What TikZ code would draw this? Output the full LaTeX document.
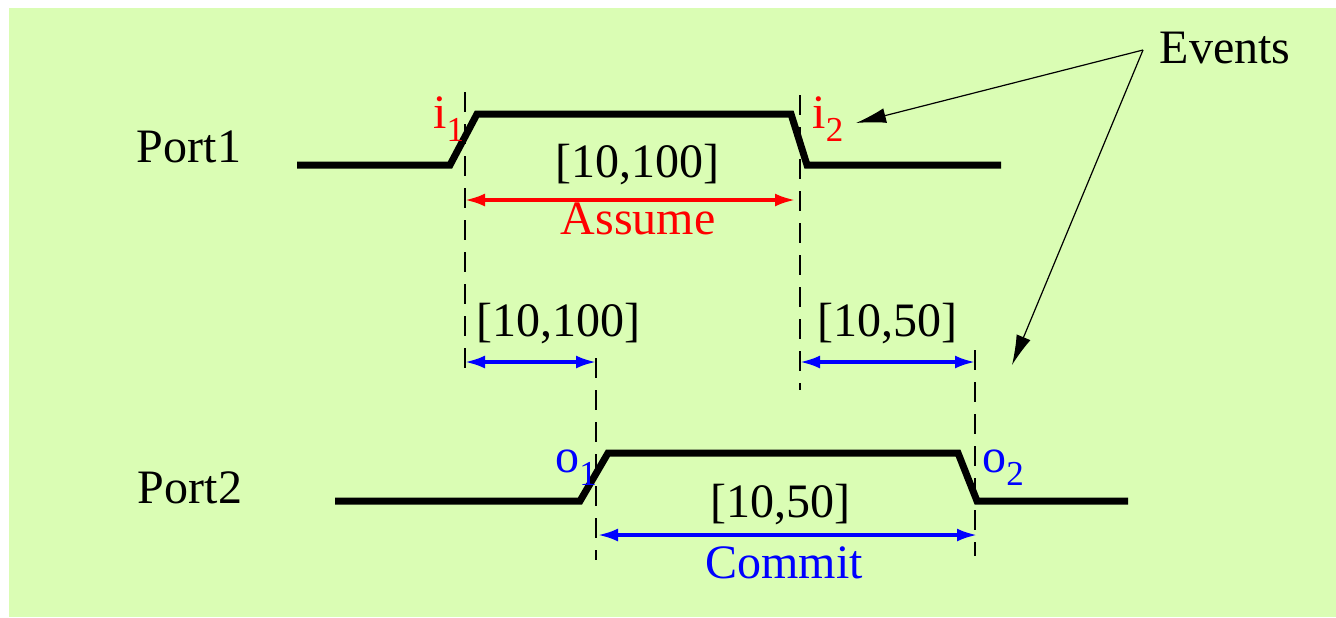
\documentclass[tikz,border=0pt]{standalone}
\usepackage{fontspec}
\setmainfont{Liberation Serif}
\usetikzlibrary{arrows.meta}
\definecolor{bggreen}{RGB}{218,253,180}
\newcommand{\lowidx}[1]{\raisebox{-6.5pt}{\fontsize{17.5}{17.5}\selectfont #1}}
\tikzset{
  wave/.style={draw, line width=3.5pt, line join=miter},
  guide/.style={draw, line width=1pt, dash pattern=on 10pt off 6pt},
  dimarrow/.style={line width=1.6pt, {Latex[length=10pt,width=6.5pt]}-{Latex[length=10pt,width=6.5pt]}},
  pointer/.style={line width=0.6pt, -{Latex[length=15pt,width=7.5pt]}},
  lbl/.style={font=\fontsize{24}{28}\selectfont, inner sep=0pt, anchor=base}
}
\begin{document}
\begin{tikzpicture}[x=0.5pt, y=-0.5pt]
\useasboundingbox (0,0) rectangle (1336,617);
\fill[bggreen] (9,8) rectangle (1336,617);

% signal of Port1
\node[lbl] (port1) at (189,162) {Port1};
\draw[wave] (297,165) -- (450,165) -- (477,114) -- (791,114) -- (807,165) -- (1001,165);
\node[lbl, anchor=base west, text=red] (i1) at (433,128) {i\lowidx{1}};
\node[lbl, anchor=base west, text=red] (i2) at (812,128) {i\lowidx{2}};

% signal of Port2
\node[lbl] (port2) at (190,503) {Port2};
\draw[wave] (335,501) -- (580,501) -- (608,453) -- (958,453) -- (977,501) -- (1128,501);
\node[lbl, anchor=base west, text=blue] (o1) at (555,472) {o\lowidx{1}};
\node[lbl, anchor=base west, text=blue] (o2) at (982,472) {o\lowidx{2}};

% guide lines
\draw[guide] (465,92) -- (465,378);
\draw[guide] (800,95) -- (800,390);
\draw[guide] (596,358) -- (596,560);
\draw[guide] (975,350) -- (975,556);

% assume interval
\coordinate (asl) at (465,200);
\coordinate (asr) at (795,200);
\draw[dimarrow, red] (asl) -- (asr);
\node[lbl] (asmval) at (637,177) {[10,100]};
\node[lbl, text=red] (asm) at (638,234) {Assume};

% response intervals
\coordinate (r1l) at (465,362);
\coordinate (r1r) at (596,362);
\coordinate (r2l) at (800,362);
\coordinate (r2r) at (975,362);
\draw[dimarrow, blue] (r1l) -- (r1r);
\draw[dimarrow, blue] (r2l) -- (r2r);
\node[lbl] (r1val) at (558,336) {[10,100]};
\node[lbl] (r2val) at (887,336) {[10,50]};

% commit interval
\coordinate (cml) at (598,535);
\coordinate (cmr) at (977,535);
\draw[dimarrow, blue] (cml) -- (cmr);
\node[lbl] (cmval) at (780,517) {[10,50]};
\node[lbl, text=blue] (cm) at (784,578) {Commit};

% events
\node[lbl] (ev) at (1225,63) {Events};
\coordinate (evs) at (1143,50);
\coordinate (evi) at (856,123);
\coordinate (evo) at (1012,365);
\draw[pointer] (evs) -- (evi);
\draw[pointer] (evs) -- (evo);
\end{tikzpicture}
\end{document}
